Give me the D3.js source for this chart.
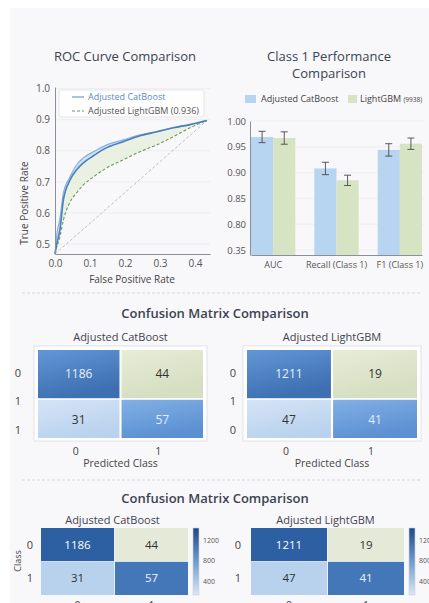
<!DOCTYPE html>
<html>
<head>
<meta charset="utf-8">
<script src="https://cdn.jsdelivr.net/npm/d3@7"></script>
<style>
  body { margin: 0; background: #ffffff; }
  text { font-family: "Open Sans", "Noto Sans", sans-serif; }
</style>
</head>
<body>
<div id="chart"></div>
<script>
// ROC curve points
var rocFpr = [0, 0.005, 0.014, 0.024, 0.043, 0.062, 0.081, 0.11, 0.148, 0.195, 0.243, 0.291, 0.338, 0.386, 0.434]
var catboostUpper = [0.468, 0.53, 0.58, 0.665, 0.716, 0.755, 0.777, 0.797, 0.819, 0.835, 0.851, 0.861, 0.874, 0.884, 0.897]
var catboostLower = [0.468, 0.50, 0.545, 0.642, 0.706, 0.739, 0.761, 0.784, 0.81, 0.829, 0.848, 0.861, 0.874, 0.884, 0.897]
var lightgbmTpr = [0.468, 0.49, 0.523, 0.577, 0.635, 0.665, 0.69, 0.716, 0.745, 0.771, 0.797, 0.819, 0.845, 0.874, 0.897]
var chanceFpr = [0, 0.434]
var chanceTpr = [0.468, 0.897]
var rocXTicks = [0, 0.1, 0.2, 0.3, 0.4]
var rocYTicks = [0.5, 0.6, 0.7, 0.8, 0.9, 1.0]

// class 1 performance bars
var metrics = ["AUC", "Recall (Class 1)", "F1 (Class 1)"]
var catboostScores = [0.969, 0.908, 0.944]
var lightgbmScores = [0.967, 0.885, 0.956]
var catboostErr = [0.011, 0.012, 0.012]
var lightgbmErr = [0.012, 0.010, 0.011]
var barTicks = [0.75, 0.80, 0.85, 0.90, 0.95, 1.00]
var barTickLabels = ["0.35", "0.80", "0.85", "0.90", "0.95", "1.00"]

// confusion matrices (TN, FP, FN, TP)
var cellKeys = ["TN", "FP", "FN", "TP"]
var catboostMatrix = [1186, 44, 31, 57]
var lightgbmMatrix = [1211, 19, 47, 41]
var catboostRowLabels = ["0", "1", "1"]
var lightgbmRowLabels = ["0", "1", "0"]
var classLabels = ["0", "1"]
var colorbarTicks = [400, 800, 1200]

var W = 429, H = 603

var svg = d3.select("#chart")
    .append("svg")
    .attr("width", W)
    .attr("height", H)

var defs = svg.append("defs")

// panel background
svg.append("rect").attr("x", 10).attr("y", 8).attr("width", W - 10).attr("height", H - 8).attr("fill", "#f8f7f9")

var titleColor = "#3b4352"

// ---------------- ROC curve ----------------
var rx = d3.scaleLinear().domain([0, 0.443]).range([55, 210]),
    ry = d3.scaleLinear().domain([0.468, 1.005]).range([254, 87])

svg.append("text").attr("x", 125).attr("y", 61).attr("text-anchor", "middle")
    .style("font-size", "13px").attr("fill", titleColor).text("ROC Curve Comparison")

var roc = svg.append("g")

roc.selectAll(".grid").data(rocYTicks).enter().append("line")
    .attr("x1", rx(0)).attr("x2", rx(0.443))
    .attr("y1", function (d) { return ry(d) }).attr("y2", function (d) { return ry(d) })
    .attr("stroke", "#ebebee").attr("stroke-width", 0.8)

var pts = rocFpr.map(function (f, i) {
    return { f: f, up: catboostUpper[i], lo: catboostLower[i], lg: lightgbmTpr[i] }
})

// green band between catboost and lightgbm
roc.append("path").datum(pts)
    .attr("d", d3.area().x(function (d) { return rx(d.f) }).y0(function (d) { return ry(d.lg) }).y1(function (d) { return ry(d.lo) }).curve(d3.curveMonotoneX))
    .attr("fill", "#e6eed9").attr("opacity", 0.7)

// blue band between the two catboost curves
roc.append("path").datum(pts)
    .attr("d", d3.area().x(function (d) { return rx(d.f) }).y0(function (d) { return ry(d.lo) }).y1(function (d) { return ry(d.up) }).curve(d3.curveMonotoneX))
    .attr("fill", "#b3d0ee").attr("opacity", 0.55)

roc.append("path").datum(chanceFpr.map(function (f, i) { return [f, chanceTpr[i]] }))
    .attr("d", d3.line().x(function (d) { return rx(d[0]) }).y(function (d) { return ry(d[1]) }))
    .attr("fill", "none").attr("stroke", "#b0b0b0").attr("stroke-width", 0.8).attr("stroke-dasharray", "3,2")

roc.append("path").datum(pts)
    .attr("d", d3.line().x(function (d) { return rx(d.f) }).y(function (d) { return ry(d.lg) }).curve(d3.curveMonotoneX))
    .attr("fill", "none").attr("stroke", "#6b9a55").attr("stroke-width", 1.1).attr("stroke-dasharray", "3,2")

roc.append("path").datum(pts)
    .attr("d", d3.line().x(function (d) { return rx(d.f) }).y(function (d) { return ry(d.up) }).curve(d3.curveMonotoneX))
    .attr("fill", "none").attr("stroke", "#86b1df").attr("stroke-width", 1.2)

roc.append("path").datum(pts)
    .attr("d", d3.line().x(function (d) { return rx(d.f) }).y(function (d) { return ry(d.lo) }).curve(d3.curveMonotoneX))
    .attr("fill", "none").attr("stroke", "#4a7fbe").attr("stroke-width", 1.6)

var rocXAxis = roc.append("g").attr("transform", "translate(0,254)")
    .call(d3.axisBottom(rx).tickValues(rocXTicks).tickFormat(d3.format(".1f")).tickSize(0).tickPadding(6))
var rocYAxis = roc.append("g").attr("transform", "translate(55,0)")
    .call(d3.axisLeft(ry).tickValues(rocYTicks).tickFormat(d3.format(".1f")).tickSize(0).tickPadding(5))

;[rocXAxis, rocYAxis].forEach(function (a) {
    a.select(".domain").attr("stroke", "#8a8f98")
    a.selectAll("text").style("font-size", "10px").attr("fill", "#555")
})

svg.append("text").attr("x", 132).attr("y", 283).attr("text-anchor", "middle")
    .style("font-size", "10px").attr("fill", "#444").text("False Positive Rate")
svg.append("text").attr("transform", "translate(28,203) rotate(-90)").attr("text-anchor", "middle")
    .style("font-size", "10px").attr("fill", "#444").text("True Positive Rate")

// roc legend
var rl = svg.append("g")
rl.append("rect").attr("x", 59).attr("y", 90).attr("width", 145).attr("height", 27).attr("rx", 2)
    .attr("fill", "#ffffff").attr("fill-opacity", 0.85).attr("stroke", "#dcdde2").attr("stroke-width", 0.7)
rl.append("line").attr("x1", 72).attr("x2", 84).attr("y1", 97).attr("y2", 97).attr("stroke", "#6b9bd2").attr("stroke-width", 1.2)
rl.append("line").attr("x1", 72).attr("x2", 84).attr("y1", 111).attr("y2", 111).attr("stroke", "#6b9a55").attr("stroke-width", 1.1).attr("stroke-dasharray", "3,2")
rl.append("text").attr("x", 88).attr("y", 100).style("font-size", "9px").attr("fill", "#5b8cc6").text("Adjusted CatBoost")
rl.append("text").attr("x", 88).attr("y", 114).style("font-size", "9px").attr("fill", "#555").text("Adjusted LightGBM (0.936)")

// ---------------- Class 1 bars ----------------
svg.append("text").attr("x", 329).attr("y", 61).attr("text-anchor", "middle")
    .style("font-size", "13px").attr("fill", titleColor).text("Class 1 Performance")
svg.append("text").attr("x", 329).attr("y", 78).attr("text-anchor", "middle")
    .style("font-size", "13px").attr("fill", titleColor).text("Comparison")

var bx = d3.scaleBand().domain(metrics).range([251, 422]).paddingInner(0.3).paddingOuter(0),
    bx1 = d3.scaleBand().domain(["cat", "lgb"]).range([0, bx.bandwidth()]),
    by = d3.scaleLinear().domain([0.7403, 1.0]).range([255, 121])

var barColors = { cat: "#b7d4f0", lgb: "#d6e4c3" }

var bars = svg.append("g")
bars.selectAll(".grid").data(barTicks).enter().append("line")
    .attr("x1", 251).attr("x2", 424)
    .attr("y1", function (d) { return by(d) }).attr("y2", function (d) { return by(d) })
    .attr("stroke", "#ececef").attr("stroke-width", 0.8)

var barData = []
metrics.forEach(function (m, i) {
    barData.push({ m: m, k: "cat", v: catboostScores[i], e: catboostErr[i] })
    barData.push({ m: m, k: "lgb", v: lightgbmScores[i], e: lightgbmErr[i] })
})

bars.selectAll(".bar").data(barData).enter().append("rect")
    .attr("x", function (d) { return bx(d.m) + bx1(d.k) })
    .attr("y", function (d) { return by(d.v) })
    .attr("width", bx1.bandwidth())
    .attr("height", function (d) { return by(0.7403) - by(d.v) })
    .attr("fill", function (d) { return barColors[d.k] })

var eb = bars.selectAll(".err").data(barData).enter().append("g").attr("stroke", "#4a4a4a").attr("stroke-width", 0.9)
eb.append("line")
    .attr("x1", function (d) { return bx(d.m) + bx1(d.k) + bx1.bandwidth() / 2 })
    .attr("x2", function (d) { return bx(d.m) + bx1(d.k) + bx1.bandwidth() / 2 })
    .attr("y1", function (d) { return by(d.v + d.e) }).attr("y2", function (d) { return by(d.v - d.e) })
eb.selectAll("line.cap").data(function (d) { return [d.v + d.e, d.v - d.e].map(function (y) { return { d: d, y: y } }) })
    .enter().append("line").attr("class", "cap")
    .attr("x1", function (c) { return bx(c.d.m) + bx1(c.d.k) + bx1.bandwidth() / 2 - 3.5 })
    .attr("x2", function (c) { return bx(c.d.m) + bx1(c.d.k) + bx1.bandwidth() / 2 + 3.5 })
    .attr("y1", function (c) { return by(c.y) }).attr("y2", function (c) { return by(c.y) })

var barYAxis = bars.append("g").attr("transform", "translate(250,0)")
    .call(d3.axisLeft(by).tickValues(barTicks).tickFormat(function (d, i) { return barTickLabels[i] }).tickSize(0).tickPadding(4))
barYAxis.select(".domain").attr("stroke", "#8a8f98")
barYAxis.selectAll("text").style("font-size", "9.5px").attr("fill", "#555")

var barXAxis = bars.append("g").attr("transform", "translate(0,255)")
    .call(d3.axisBottom(bx).tickSize(0).tickPadding(7))
barXAxis.select(".domain").attr("stroke", "#8a8f98")
barXAxis.selectAll("text").style("font-size", "9px").attr("fill", "#555")

// bar legend
var bl = svg.append("g")
bl.append("rect").attr("x", 245).attr("y", 95).attr("width", 11).attr("height", 8).attr("fill", barColors.cat)
bl.append("text").attr("x", 261).attr("y", 102).style("font-size", "9px").attr("fill", "#444").text("Adjusted CatBoost")
bl.append("rect").attr("x", 348).attr("y", 95).attr("width", 9).attr("height", 8).attr("fill", barColors.lgb)
var lgText = bl.append("text").attr("x", 360).attr("y", 102).style("font-size", "9px").attr("fill", "#444")
lgText.append("tspan").text("LightGBM ")
lgText.append("tspan").style("font-size", "6.5px").text("(9938)")

// separators
;[293, 480].forEach(function (y) {
    svg.append("line").attr("x1", 22).attr("x2", 422).attr("y1", y).attr("y2", y)
        .attr("stroke", "#cfd2d8").attr("stroke-width", 0.8).attr("stroke-dasharray", "3,2")
})

// ---------------- Confusion matrices (soft style) ----------------
svg.append("text").attr("x", 215).attr("y", 318).attr("text-anchor", "middle")
    .style("font-size", "13px").style("font-weight", 600).attr("fill", titleColor).text("Confusion Matrix Comparison")

var softColors = d3.scaleOrdinal().domain(cellKeys)
    .range([["#6297d5", "#3d6fb1"], ["#e8ecd8", "#d5dec0"], ["#d4e4f6", "#bad2ee"], ["#82b0e5", "#5b90d2"]])
var softText = d3.scaleOrdinal().domain(cellKeys).range(["#e9f1fb", "#333", "#333", "#e3eefb"])

softColors.domain().forEach(function (k) {
    var gr = defs.append("linearGradient").attr("id", "soft" + k).attr("x1", 0).attr("y1", 0).attr("x2", 0.4).attr("y2", 1)
    gr.append("stop").attr("offset", "0%").attr("stop-color", softColors(k)[0])
    gr.append("stop").attr("offset", "100%").attr("stop-color", softColors(k)[1])
})

function drawSoftMatrix(cfg) {
    var g = svg.append("g")
    var cx = d3.scaleBand().domain(classLabels).range([cfg.x0, cfg.x1]).paddingInner(0.025),
        cy = d3.scaleBand().domain(classLabels).range([350, 438]).paddingInner(0.035)

    g.append("text").attr("x", (cfg.x0 + cfg.x1) / 2).attr("y", 341).attr("text-anchor", "middle")
        .style("font-size", "11px").attr("fill", "#3f4450").text(cfg.title)

    g.append("rect").attr("x", cfg.x0 - 4).attr("y", 346).attr("width", cfg.x1 - cfg.x0 + 8).attr("height", 95)
        .attr("fill", "#ffffff").attr("stroke", "#d8dce2").attr("stroke-width", 0.8)

    var cells = cfg.values.map(function (v, i) {
        return { v: v, k: cellKeys[i], r: classLabels[Math.floor(i / 2)], c: classLabels[i % 2] }
    })
    g.selectAll(".cell").data(cells).enter().append("rect")
        .attr("x", function (d) { return cx(d.c) }).attr("y", function (d) { return cy(d.r) })
        .attr("width", cx.bandwidth()).attr("height", function (d) { return d.r == "0" ? cy.bandwidth() + 5 : cy.bandwidth() - 5 })
        .attr("transform", function (d) { return d.r == "1" ? "translate(0,5)" : null })
        .attr("fill", function (d) { return "url(#soft" + d.k + ")" })
    g.selectAll(".val").data(cells).enter().append("text")
        .attr("x", function (d) { return cx(d.c) + cx.bandwidth() / 2 })
        .attr("y", function (d) { return d.r == "0" ? 378 : 424 })
        .attr("text-anchor", "middle").style("font-size", "12px")
        .attr("fill", function (d) { return softText(d.k) }).text(function (d) { return d.v })

    g.selectAll(".rl").data(cfg.rowLabels).enter().append("text")
        .attr("x", cfg.lx).attr("y", function (d, i) { return [377, 405, 434][i] })
        .attr("text-anchor", "middle").style("font-size", "11px").attr("fill", "#444").text(function (d) { return d })
    g.selectAll(".cl").data(classLabels).enter().append("text")
        .attr("x", function (d) { return cx(d) + cx.bandwidth() / 2 + (d == "0" ? -3 : -4) }).attr("y", 455)
        .attr("text-anchor", "middle").style("font-size", "10.5px").attr("fill", "#444").text(function (d) { return d })
    g.append("text").attr("x", (cfg.x0 + cfg.x1) / 2).attr("y", 467).attr("text-anchor", "middle")
        .style("font-size", "10.5px").attr("fill", "#444").text("Predicted Class")
}

drawSoftMatrix({ x0: 38, x1: 203, lx: 18, title: "Adjusted CatBoost", values: catboostMatrix, rowLabels: catboostRowLabels })
drawSoftMatrix({ x0: 247, x1: 417, lx: 233, title: "Adjusted LightGBM", values: lightgbmMatrix, rowLabels: lightgbmRowLabels })

// ---------------- Confusion matrices (heatmap style) ----------------
svg.append("text").attr("x", 215).attr("y", 503).attr("text-anchor", "middle")
    .style("font-size", "13px").style("font-weight", 600).attr("fill", titleColor).text("Confusion Matrix Comparison")

var heatColors = d3.scaleOrdinal().domain(cellKeys).range(["#2c60a3", "#e4e9d8", "#b8d2ed", "#4377b8"])
var heatText = d3.scaleOrdinal().domain(cellKeys).range(["#ffffff", "#333", "#333", "#eef4fb"])
var cbScale = d3.scaleLinear().domain([150, 1430]).range([595, 528])

var cbGrad = defs.append("linearGradient").attr("id", "cbGrad").attr("x1", 0).attr("y1", 1).attr("x2", 0).attr("y2", 0)
cbGrad.append("stop").attr("offset", "0%").attr("stop-color", "#dbe7f4")
cbGrad.append("stop").attr("offset", "50%").attr("stop-color", "#6f9bcd")
cbGrad.append("stop").attr("offset", "100%").attr("stop-color", "#1d4886")

function drawHeatMatrix(cfg) {
    var g = svg.append("g")
    var cx = d3.scaleBand().domain(classLabels).range([cfg.x0, cfg.x1]).paddingInner(0.012),
        cy = d3.scaleBand().domain(classLabels).range([528, 595]).paddingInner(0.02)

    g.append("text").attr("x", (cfg.x0 + cfg.x1) / 2 - 2).attr("y", 524).attr("text-anchor", "middle")
        .style("font-size", "11px").attr("fill", "#3f4450").text(cfg.title)

    var cells = cfg.values.map(function (v, i) {
        return { v: v, k: cellKeys[i], r: classLabels[Math.floor(i / 2)], c: classLabels[i % 2] }
    })
    g.selectAll(".cell").data(cells).enter().append("rect")
        .attr("x", function (d) { return cx(d.c) }).attr("y", function (d) { return cy(d.r) })
        .attr("width", cx.bandwidth()).attr("height", cy.bandwidth())
        .attr("fill", function (d) { return heatColors(d.k) })
    g.selectAll(".val").data(cells).enter().append("text")
        .attr("x", function (d) { return cx(d.c) + cx.bandwidth() / 2 })
        .attr("y", function (d) { return cy(d.r) + cy.bandwidth() / 2 + 4 })
        .attr("text-anchor", "middle").style("font-size", "11.5px")
        .attr("fill", function (d) { return heatText(d.k) }).text(function (d) { return d.v })

    g.selectAll(".rl").data(classLabels).enter().append("text")
        .attr("x", cfg.lx).attr("y", function (d) { return cy(d) + cy.bandwidth() / 2 + 4 })
        .attr("text-anchor", "middle").style("font-size", "11px").attr("fill", "#444").text(function (d) { return d })
    // column labels sit at the bottom edge, cut off as in the source picture
    g.selectAll(".cl").data(classLabels).enter().append("text")
        .attr("x", function (d) { return cx(d) + cx.bandwidth() / 2 }).attr("y", 609)
        .attr("text-anchor", "middle").style("font-size", "10.5px").attr("fill", "#444").text(function (d) { return d })

    // colorbar
    g.append("rect").attr("x", cfg.cbx).attr("y", 528).attr("width", 6).attr("height", 67)
        .attr("fill", "url(#cbGrad)").attr("stroke", "#c9d3df").attr("stroke-width", 0.6)
    g.selectAll(".cbt").data(colorbarTicks).enter().append("text")
        .attr("x", cfg.cbx + 10).attr("y", function (d) { return cbScale(d) + 2.5 })
        .style("font-size", "7px").attr("fill", "#555").text(function (d) { return d })
}

drawHeatMatrix({ x0: 41, x1: 188, lx: 30, cbx: 193, title: "Adjusted CatBoost", values: catboostMatrix })
drawHeatMatrix({ x0: 251, x1: 404, lx: 238, cbx: 409, title: "Adjusted LightGBM", values: lightgbmMatrix })

svg.append("text").attr("transform", "translate(21,561) rotate(-90)").attr("text-anchor", "middle")
    .style("font-size", "9px").attr("fill", "#444").text("Class")
</script>
</body>
</html>
